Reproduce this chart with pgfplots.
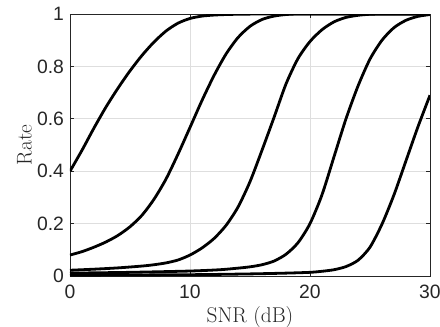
\documentclass[border=0pt]{standalone}
\usepackage{fontspec}
\usepackage{pgfplots}
\pgfplotsset{compat=1.18}
\usetikzlibrary{calc}
\newfontfamily\hel{Liberation Sans}
\definecolor{axgray}{gray}{0.15}
\definecolor{gridgray}{gray}{0.87}
\begin{document}
\begin{tikzpicture}[x=1pt,y=1pt]
\begin{axis}[
  name=ax,
  at={(0,0)}, anchor=south west,
  scale only axis,
  width=270pt, height=196.5pt,
  xmin=0, xmax=30, ymin=0, ymax=1,
  xtick={0,10,20,30}, ytick={0,0.2,0.4,0.6,0.8,1},
  grid=major,
  major grid style={gridgray, line width=0.5pt},
  tick align=inside,
  major tick length=2.8pt,
  axis line style={axgray, line width=0.6pt},
  tick style={axgray, line width=0.6pt},
  /pgf/number format/assume math mode=true,
  tick label style={font=\hel\fontsize{14.5}{16}\selectfont, text=axgray},
  xticklabel style={yshift=-3pt},
  yticklabel style={xshift=-1pt},
  xlabel={SNR (dB)},
  ylabel={Rate},
  label style={font=\fontsize{16}{18}\selectfont, text=axgray},
  xlabel style={yshift=0.5pt},
  ylabel style={yshift=-3pt},
  cycle list={{black, solid, mark=none}},
  every axis plot/.append style={line width=2.1pt, smooth, tension=0.45},
]
\addplot coordinates {(0,0.40) (1,0.48) (2,0.565) (3,0.645) (4,0.717) (5,0.783) (6,0.842) (7,0.893) (8,0.935) (9,0.965) (10,0.983) (11,0.992) (12,0.996) (13,0.998) (14,0.999) (16,1) (20,1) (25,1) (30,1)};
\addplot coordinates {(0,0.08) (1,0.093) (2,0.11) (3,0.13) (4,0.155) (5,0.188) (6,0.232) (7,0.293) (8,0.37) (9,0.465) (10,0.567) (11,0.67) (12,0.765) (13,0.847) (14,0.91) (15,0.953) (16,0.979) (17,0.992) (18,0.998) (19,1) (22,1) (26,1) (30,1)};
\addplot coordinates {(0,0.022) (2,0.026) (4,0.031) (6,0.038) (7,0.043) (8,0.05) (9,0.061) (10,0.08) (11,0.107) (12,0.143) (13,0.193) (14,0.263) (15,0.36) (16,0.48) (17,0.605) (18,0.733) (19,0.83) (20,0.895) (21,0.94) (22,0.97) (23,0.987) (24,0.995) (25,0.999) (26,1) (28,1) (30,1)};
\addplot coordinates {(0,0.011) (5,0.014) (10,0.019) (12.5,0.024) (14,0.03) (15,0.035) (16,0.043) (17,0.057) (18,0.083) (19,0.127) (20,0.2) (21,0.31) (22,0.455) (23,0.6) (24,0.725) (25,0.828) (26,0.9) (27,0.948) (28,0.976) (29,0.991) (30,0.998)};
\addplot coordinates {(0,0.003) (10,0.005) (15,0.008) (18,0.011) (20,0.014) (21,0.018) (22,0.024) (23,0.036) (24,0.06) (25,0.11) (26,0.198) (27,0.31) (28,0.44) (29,0.57) (30,0.69)};
\end{axis}
\pgfresetboundingbox
\path ($(ax.south west)+(-52.5pt,-37.5pt)$) rectangle ($(ax.north east)+(7.5pt,10.5pt)$);
\end{tikzpicture}
\end{document}
